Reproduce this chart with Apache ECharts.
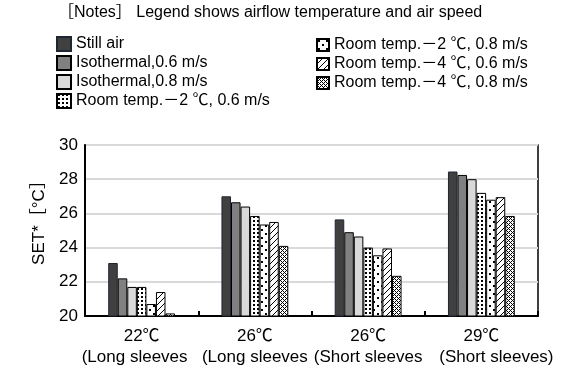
<!DOCTYPE html>
<html>
<head>
<meta charset="utf-8">
<script src="https://cdn.jsdelivr.net/npm/echarts@6/dist/echarts.min.js"></script>
<style>
  html, body { margin: 0; padding: 0; background: #fff; }
  #ec { width: 566px; height: 370px; }
</style>
</head>
<body>
<div id="ec"></div>
<script>
const FONT = "'Liberation Sans', Arial, 'Noto Sans CJK JP', sans-serif";

const categories = ["22℃\n(Long sleeves", "26℃\n(Long sleeves", "26℃\n(Short sleeves", "29℃\n(Short sleeves)"];
const seriesNames = [
  "Still air",
  "Isothermal,0.6 m/s",
  "Isothermal,0.8 m/s",
  "Room temp.－2 ℃, 0.6 m/s",
  "Room temp.－2 ℃, 0.8 m/s",
  "Room temp.－4 ℃, 0.6 m/s",
  "Room temp.－4 ℃, 0.8 m/s",
];
const stillAir = [23.1, 27.0, 25.65, 28.45];
const iso06 = [22.2, 26.65, 24.9, 28.25];
const iso08 = [21.7, 26.4, 24.65, 28.0];
const rt2v06 = [21.7, 25.85, 24.0, 27.2];
const rt2v08 = [20.7, 25.35, 23.55, 26.8];
const rt4v06 = [21.4, 25.5, 23.95, 26.95];
const rt4v08 = [20.15, 24.1, 22.35, 25.85];
const yTicks = [20, 22, 24, 26, 28, 30];

// small tiled patterns for the hatched bars
function makePattern(size, draw) {
  const c = document.createElement("canvas");
  c.width = size;
  c.height = size;
  const ctx = c.getContext("2d");
  ctx.fillStyle = "#fff";
  ctx.fillRect(0, 0, size, size);
  ctx.fillStyle = "#000";
  ctx.strokeStyle = "#000";
  draw(ctx);
  return { image: c, repeat: "repeat" };
}
const denseDots = makePattern(4, (ctx) => {
  ctx.fillRect(1, 0, 2, 2);
});
const sparseDots = makePattern(8, (ctx) => {
  ctx.fillRect(1, 1, 2, 2);
  ctx.fillRect(5, 5, 2, 2);
});
const diagonal = makePattern(6, (ctx) => {
  ctx.lineWidth = 1;
  ctx.beginPath();
  ctx.moveTo(-1, 7); ctx.lineTo(7, -1);
  ctx.moveTo(-1, 1); ctx.lineTo(1, -1);
  ctx.moveTo(5, 7); ctx.lineTo(7, 5);
  ctx.stroke();
});
const cross = makePattern(4, (ctx) => {
  ctx.fillRect(0, 0, 1, 1);
  ctx.fillRect(2, 2, 1, 1);
  ctx.fillRect(1, 1, 1, 1);
  ctx.fillRect(3, 3, 1, 1);
  ctx.fillRect(3, 1, 1, 1);
  ctx.fillRect(1, 3, 1, 1);
});

const values = [stillAir, iso06, iso08, rt2v06, rt2v08, rt4v06, rt4v08];
const fills = ["#404040", "#808080", "#d9d9d9", denseDots, sparseDots, diagonal, cross];
const borders = ["#1e2633", "#000", "#000", "#000", "#000", "#000", "#000"];

const domChart = document.getElementById("ec");
let myChart = echarts.init(domChart);
myChart.setOption({
  animation: false,
  textStyle: { fontFamily: FONT, color: "#000" },
  title: {
    text: "［Notes］ Legend shows airflow temperature and air speed",
    left: 58,
    top: 5,
    padding: 0,
    textStyle: { fontFamily: FONT, fontSize: 16, fontWeight: "normal", color: "#000" },
  },
  legend: [
    {
      data: seriesNames.slice(0, 4),
      orient: "vertical",
      left: 56,
      top: 36,
      padding: 0,
      icon: "rect",
      itemWidth: 14,
      itemHeight: 14,
      itemGap: 3,
      textStyle: { fontFamily: FONT, fontSize: 16, color: "#000" },
    },
    {
      data: seriesNames.slice(4),
      orient: "vertical",
      left: 316,
      top: 37,
      padding: 0,
      icon: "rect",
      itemWidth: 12,
      itemHeight: 12,
      itemGap: 3,
      textStyle: { fontFamily: FONT, fontSize: 16, color: "#000" },
    },
  ],
  grid: {
    left: 85,
    right: 28,
    top: 145,
    bottom: 54,
    show: true,
    borderColor: "#000",
    borderWidth: 1.5,
  },
  xAxis: {
    type: "category",
    data: categories,
    axisLine: { lineStyle: { color: "#000", width: 2 } },
    axisTick: { show: true, inside: true, length: 5, lineStyle: { color: "#000", width: 2 } },
    axisLabel: {
      interval: 0,
      margin: 10,
      color: "#000",
      fontFamily: FONT,
      formatter: (value, index) => {
        const lines = value.split("\n");
        return "{t|" + lines[0] + "}\n{s" + index + "|" + lines[1] + "}";
      },
      rich: {
        t: { fontSize: 17, lineHeight: 21, fontFamily: FONT },
        s0: { fontSize: 17, lineHeight: 21, fontFamily: FONT, padding: [0, 14, 0, 0] },
        s1: { fontSize: 17, lineHeight: 21, fontFamily: FONT },
        s2: { fontSize: 17, lineHeight: 21, fontFamily: FONT },
        s3: { fontSize: 17, lineHeight: 21, fontFamily: FONT, padding: [0, 0, 0, 30] },
      },
    },
  },
  yAxis: {
    type: "value",
    min: yTicks[0],
    max: yTicks[yTicks.length - 1],
    interval: 2,
    name: "SET*［°C］",
    nameLocation: "middle",
    nameGap: 30,
    nameRotate: 90,
    nameTextStyle: { fontSize: 17, color: "#000", fontFamily: FONT, padding: [0, 0, 0, 24] },
    axisLine: { show: true, lineStyle: { color: "#000", width: 2 } },
    axisTick: { show: false },
    axisLabel: { fontSize: 17, margin: 7, color: "#000", fontFamily: FONT },
    splitLine: { lineStyle: { color: "#d9d9d9", width: 2 } },
  },
  series: values.map((v, i) => ({
    name: seriesNames[i],
    type: "bar",
    data: v,
    barGap: "0%",
    barCategoryGap: "41%",
    itemStyle: { color: fills[i], borderColor: borders[i], borderWidth: 1 },
  })),
});
</script>
</body>
</html>
